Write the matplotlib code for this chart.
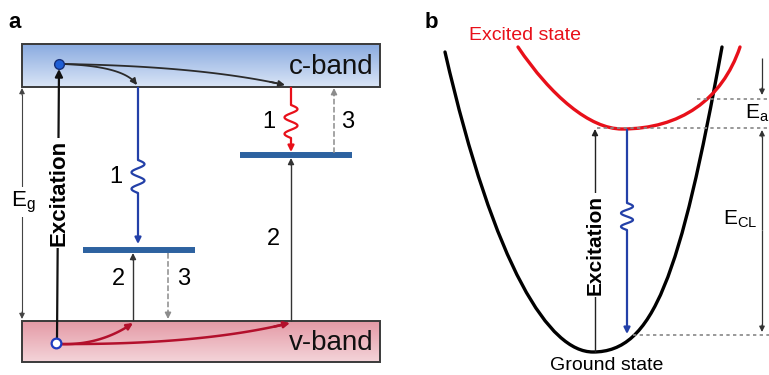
"""
Two-panel schematic: (a) band diagram with trap levels,
(b) configuration-coordinate diagram of ground and excited state.
Drawn in pixel coordinates (y pointing down) on a single full-figure axes.
"""

import numpy as np
import matplotlib.pyplot as plt
from matplotlib.patches import Rectangle, PathPatch
from matplotlib.path import Path

# ============================== defines ======================================

W, H = 769, 375

# panel a: bands (x0, y0, x1, y1) and trap levels
CBAND = (22, 44, 380, 87)
VBAND = (22, 321, 380, 362)
CBAND_COLORS = ["#8aabe0", "#dae5f6"]
VBAND_COLORS = ["#e49aa6", "#f4d4d9"]
LEVEL_X = [(83, 195), (240, 352)]
LEVEL_Y = [250, 155]
ELECTRON = (59, 64)
HOLE = (56, 343)
# curved relaxation paths: (start, control, end)
C_CURVES = [((62, 64), (125, 66), (137, 85)),
            ((62, 64), (200, 66), (285, 85))]
V_CURVES = [((58, 344), (100, 346), (133, 323)),
            ((58, 344), (200, 345), (290, 323))]

# panel b: cubic Bezier control points of the two potential curves
GROUND_CURVE = [(445, 52), (495, 270), (550, 352), (593, 352),
                (653, 352), (680, 278), (722, 47)]
EXCITED_CURVE = [(518, 47), (551, 96), (590, 129), (622, 129),
                 (680, 129), (722, 100), (740, 47)]
DOTTED_Y = [99, 128, 335]
DOTTED_X0 = [697, 597, 633]

BLUE = "#2340a8"
RED = "#e8101a"
DARKRED = "#b3102c"
LEVEL = "#2d62a0"
GRAY = "#8c8c8c"


# ============================== helpers ======================================

def head(ax, tail, tip, color, lw=1.0, ms=9):
    ax.annotate("", xy=tip, xytext=tail,
                arrowprops=dict(arrowstyle="-|>", color=color, lw=lw,
                                mutation_scale=ms, shrinkA=0, shrinkB=0))


def arrow(ax, start, end, color, lw=1.0, ls="-", ms=9):
    # shaft drawn as a line, head as a short solid segment
    x0, y0 = start
    x1, y1 = end
    d = np.hypot(x1 - x0, y1 - y0)
    ux, uy = (x1 - x0) / d, (y1 - y0) / d
    ax.plot([x0, x1 - 6 * ux], [y0, y1 - 6 * uy], color=color, lw=lw, ls=ls,
            solid_capstyle="butt")
    head(ax, (x1 - 7 * ux, y1 - 7 * uy), end, color, lw, ms)


def wavy(ax, x, y0, w0, w1, y1, color, lw=1.6, amp=6.5, turns=2):
    t = np.linspace(0, 1, 80)
    yy = np.concatenate([[y0], w0 + (w1 - w0) * t, [y1 - 6]])
    xx = np.concatenate([[x], x + amp * np.sin(2 * np.pi * turns * t), [x]])
    ax.plot(xx, yy, color=color, lw=lw)
    head(ax, (x, y1 - 7), (x, y1), color, lw, 9)


def quad(ax, p0, p1, p2, color, lw=1.3):
    t = np.linspace(0, 1, 60)[:, None]
    pts = (1 - t) ** 2 * np.array(p0) + 2 * (1 - t) * t * np.array(p1) \
        + t ** 2 * np.array(p2)
    ax.plot(pts[:-3, 0], pts[:-3, 1], color=color, lw=lw)
    head(ax, pts[-6], pts[-1], color, lw, 9)


def band(ax, box, colors, label):
    x0, y0, x1, y1 = box
    c0 = np.array(plt.matplotlib.colors.to_rgb(colors[0]))
    c1 = np.array(plt.matplotlib.colors.to_rgb(colors[1]))
    t = np.linspace(0, 1, 64)[:, None, None]
    grad = (1 - t) * c0 + t * c1
    ax.imshow(grad, extent=(x0, x1, y1, y0), origin="upper", aspect="auto",
              zorder=0)
    ax.add_patch(Rectangle((x0, y0), x1 - x0, y1 - y0, fill=False,
                           ec="#3a3a3a", lw=1.4, zorder=1))
    ax.text(x1 - 6, (y0 + y1) / 2 + 1, label, ha="right", va="center",
            fontsize=20, color="#111111")


def bezier(ax, pts, color, lw):
    codes = [Path.MOVETO] + [Path.CURVE4] * (len(pts) - 1)
    ax.add_patch(PathPatch(Path(pts, codes), fill=False, ec=color, lw=lw,
                           capstyle="round"))


# ============================== main =========================================

def main():
    plt.rcParams["font.family"] = ["Liberation Sans", "DejaVu Sans"]

    fig = plt.figure(figsize=(W / 100, H / 100), dpi=100)
    ax = fig.add_axes([0, 0, 1, 1])

    # ---- panel a
    band(ax, CBAND, CBAND_COLORS, "c-band")
    band(ax, VBAND, VBAND_COLORS, "v-band")

    for (xa, xb), y in zip(LEVEL_X, LEVEL_Y):
        ax.plot([xa, xb], [y, y], color=LEVEL, lw=4.3, solid_capstyle="butt")

    for p0, p1, p2 in C_CURVES:
        quad(ax, p0, p1, p2, "#2b2b2b", 1.3)
    for p0, p1, p2 in V_CURVES:
        quad(ax, p0, p1, p2, DARKRED, 1.8)

    # excitation
    arrow(ax, (HOLE[0] + 1, HOLE[1] - 4), (ELECTRON[0], ELECTRON[1] + 5),
          "#111111", 1.6, ms=11)
    ax.text(59, 193, "Excitation", rotation=90, ha="center", va="center",
            fontsize=16, fontweight="bold",
            bbox=dict(fc="white", ec="none", pad=1.5))
    ax.plot(*ELECTRON, "o", ms=7, mfc="#1f5fd6", mec="#16307a", mew=1)
    ax.plot(*HOLE, "o", ms=7, mfc="white", mec="#1e3cc0", mew=1.6)

    # band gap
    arrow(ax, (22, 200), (22, 88), "#444444", 0.8, ms=8)
    arrow(ax, (22, 200), (22, 319), "#444444", 0.8, ms=8)
    ax.text(23, 202, "E$_\\mathregular{g}$", ha="center", va="center",
            fontsize=16, bbox=dict(fc="white", ec="none", pad=2))

    # transitions
    wavy(ax, 138, 88, 160, 193, 244, BLUE)
    wavy(ax, 291, 88, 105, 138, 152, RED)
    arrow(ax, (133, 321), (133, 253), "#333333", 1.0)
    arrow(ax, (291, 321), (291, 158), "#333333", 1.0)
    arrow(ax, (168, 253), (168, 319), GRAY, 1.1, ls="--")
    arrow(ax, (334, 153), (334, 88), GRAY, 1.1, ls="--")

    for s, x, y in [("1", 116, 177), ("1", 269, 122), ("3", 348, 122),
                    ("2", 118, 279), ("3", 184, 279), ("2", 273, 239)]:
        ax.text(x, y, s, ha="center", va="center", fontsize=17)

    ax.text(8, 22, "a", ha="left", va="center", fontsize=16,
            fontweight="bold")

    # ---- panel b
    ax.text(425, 22, "b", ha="left", va="center", fontsize=16,
            fontweight="bold")
    ax.text(525, 36, "Excited state", ha="center", va="center", fontsize=14,
            color=RED)

    for y, x0 in zip(DOTTED_Y, DOTTED_X0):
        ax.plot([x0, W], [y, y], color="#888888", lw=1.2, ls=(0, (2, 2)))

    bezier(ax, GROUND_CURVE, "black", 2.4)
    bezier(ax, EXCITED_CURVE, RED, 2.4)

    arrow(ax, (595, 352), (595, 129), "#222222", 1.0)
    ax.text(595, 245, "Excitation", rotation=90, ha="center", va="center",
            fontsize=15, fontweight="bold",
            bbox=dict(fc="white", ec="none", pad=1.5))
    wavy(ax, 627, 130, 203, 230, 334, BLUE, lw=1.6, amp=6)

    arrow(ax, (762, 58), (762, 95), "#333333", 0.9, ms=8)
    arrow(ax, (762, 230), (762, 130), "#333333", 0.9, ms=8)
    arrow(ax, (762, 230), (762, 332), "#333333", 0.9, ms=8)
    ax.text(745, 113, "E$_\\mathregular{a}$", ha="left", va="center",
            fontsize=15)
    ax.text(740, 219, "E$_\\mathregular{CL}$", ha="center", va="center",
            fontsize=15)
    ax.text(607, 366, "Ground state", ha="center", va="center", fontsize=14)

    ax.set_xlim(0, W)
    ax.set_ylim(H, 0)
    ax.axis("off")

    fig.savefig("out.png", dpi=100, facecolor="white")


if __name__ == "__main__":
    main()
